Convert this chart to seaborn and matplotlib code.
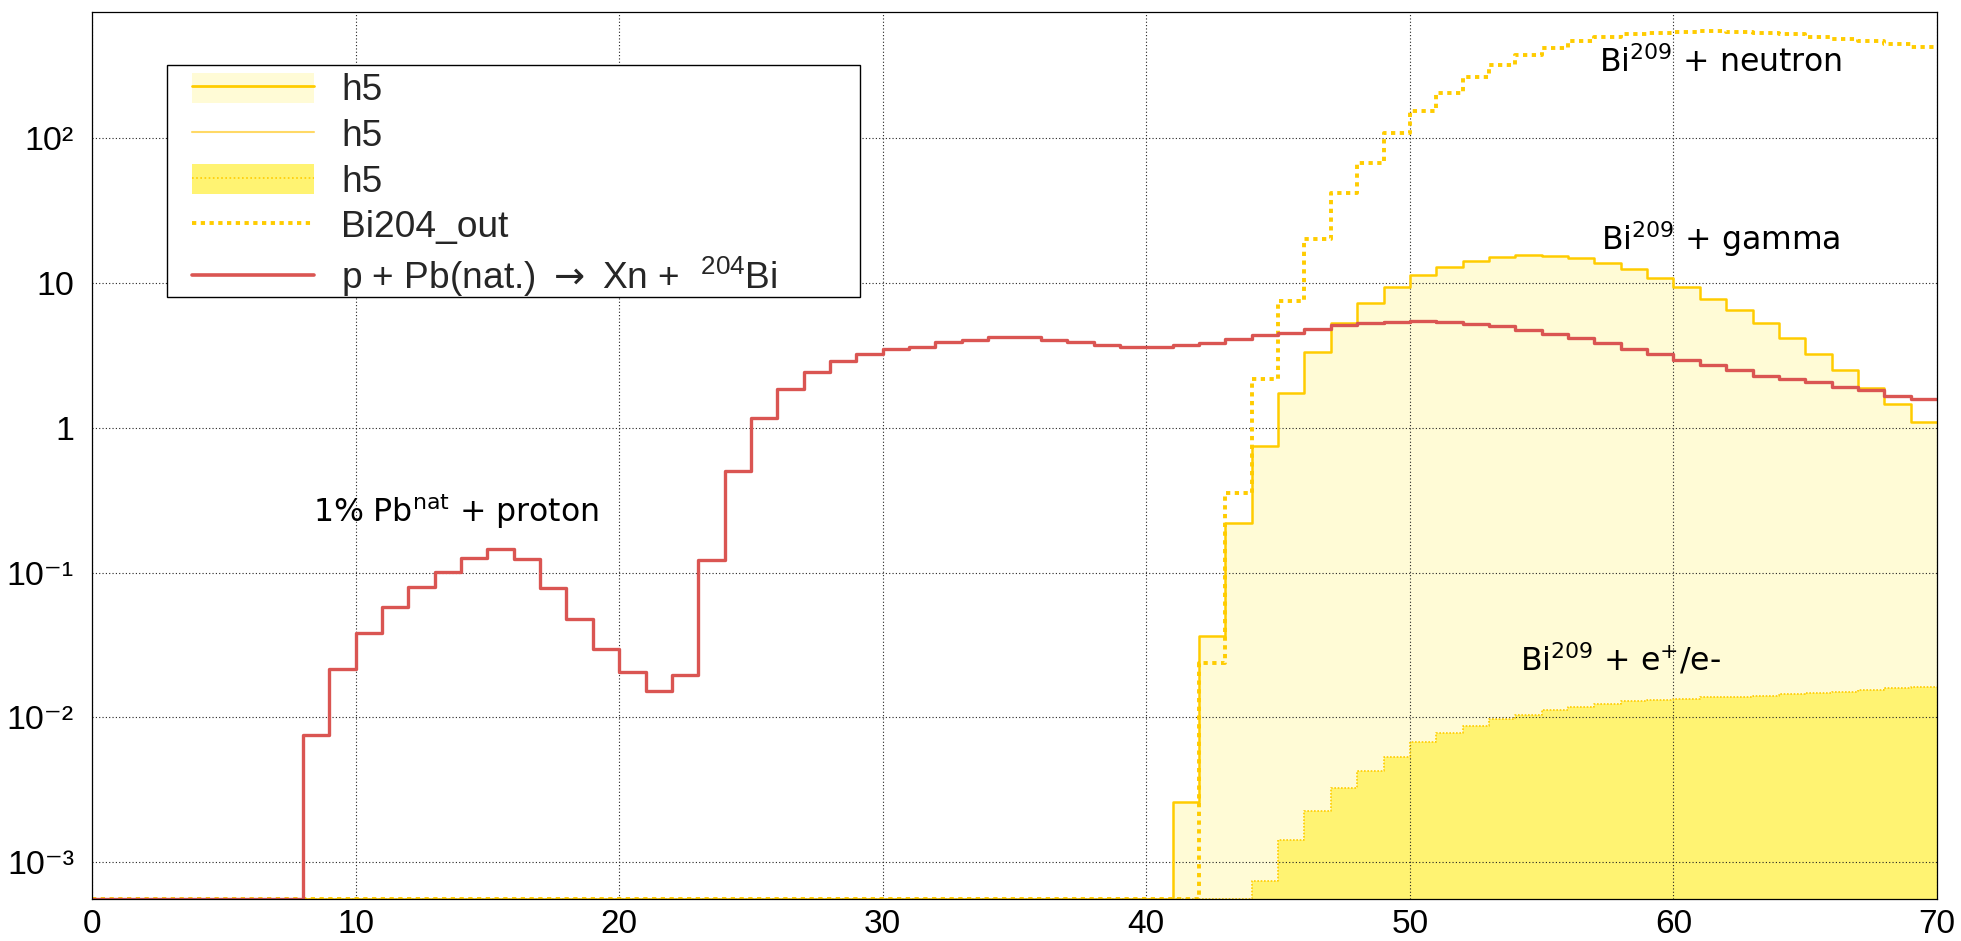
import numpy as np
import matplotlib
matplotlib.use("Agg")
import matplotlib.pyplot as plt
from matplotlib.patches import Rectangle, Patch
from matplotlib.lines import Line2D
from matplotlib.ticker import (FixedLocator, FixedFormatter, MultipleLocator,
                               LogLocator, NullFormatter)
import seaborn as sns

# ---------------------------------------------------------------- data
# energy bins (MeV), 1 MeV wide
energy_edges = list(range(0, 71))

# p + Pb(nat.) -> Xn + 204Bi
pb_to_bi204 = [0, 0, 0, 0, 0, 0, 0, 0, 0.0076, 0.0215,
               0.0385, 0.0574, 0.0797, 0.101, 0.1265, 0.1445, 0.124, 0.0785, 0.0481, 0.0298,
               0.0204, 0.0153, 0.0195, 0.123, 0.506, 1.17, 1.86, 2.41, 2.88, 3.22,
               3.48, 3.61, 3.94, 4.06, 4.22, 4.22, 4.06, 3.91, 3.75, 3.61,
               3.62, 3.71, 3.88, 4.13, 4.40, 4.54, 4.81, 5.16, 5.30, 5.36,
               5.44, 5.36, 5.25, 5.02, 4.74, 4.47, 4.15, 3.85, 3.50, 3.25,
               2.94, 2.73, 2.52, 2.29, 2.19, 2.07, 1.91, 1.83, 1.67, 1.59]

# Bi209 + gamma
bi209_gamma = [0] * 41 + [0.0026, 0.0365, 0.219, 0.746, 1.75, 3.34, 5.30, 7.28, 9.40,
                          11.3, 12.9, 14.2, 15.1, 15.6, 15.3, 14.8, 13.7, 12.5, 10.9,
                          9.35, 7.81, 6.49, 5.27, 4.15, 3.25, 2.49, 1.89, 1.45, 1.09]

# Bi209 + neutron (Bi204_out)
bi209_neutron = [0] * 42 + [0.0236, 0.356, 2.16, 7.48, 20.0, 41.6, 67.8, 108,
                            154, 207, 264, 321, 377, 420, 467, 500, 525, 538,
                            547, 550, 544, 533, 525, 505, 484, 469, 449, 430]

# Bi209 + e+/e-
bi209_epm = [0] * 44 + [7.38e-4, 1.43e-3, 2.25e-3, 3.23e-3, 4.24e-3, 5.33e-3,
                        6.71e-3, 7.79e-3, 8.70e-3, 9.78e-3, 0.0104, 0.0112, 0.0117, 0.0123, 0.0130, 0.0132,
                        0.0134, 0.0137, 0.0139, 0.0141, 0.0144, 0.0147, 0.0150, 0.0154, 0.0160, 0.0163]

legend_labels = ["h5", "h5", "h5", "Bi204_out",
                 "p + Pb(nat.) $\\rightarrow$ Xn +  $\\mathregular{^{204}}$Bi"]

x_ticks = [0, 10, 20, 30, 40, 50, 60, 70]
x_tick_labels = ["0", "10", "20", "30", "40", "50", "60", "70"]
y_ticks = [1e-3, 1e-2, 1e-1, 1, 10, 100]
y_tick_labels = ["10\u207b\u00b3", "10\u207b\u00b2", "10\u207b\u00b9", "1", "10", "10\u00b2"]
y_range = (5.55e-4, 746)
x_range = (0, 70)

# ---------------------------------------------------------------- style
RED = "#da5552"
GOLD = "#ffcc00"
GOLD_LIGHT = "#ffd966"
PALE_FILL = "#fffbd6"
BRIGHT_FILL = "#fff372"
SANS = ["Liberation Sans", "DejaVu Sans"]

sns.set_style("white")
plt.rcParams["font.family"] = SANS
plt.rcParams["mathtext.fontset"] = "dejavusans"

W, H = 1961, 941
fig = plt.figure(figsize=(W / 100, H / 100), dpi=100)
ax = fig.add_axes([92 / W, 42 / H, 1845 / W, 887 / H])
ax.set_yscale("log")

edges = np.asarray(energy_edges, float)
centers = 0.5 * (edges[:-1] + edges[1:])


def on_floor(values):
    """Empty bins sit on the lower frame edge, as in a ROOT histogram."""
    return np.maximum(np.asarray(values, float), y_range[0])


def hist_step(values, **kws):
    sns.histplot(x=centers, weights=on_floor(values), bins=energy_edges,
                 element="step", ax=ax, **kws)


# filled areas
hist_step(bi209_gamma, fill=True, facecolor=PALE_FILL, edgecolor="none", linewidth=0)
hist_step(bi209_epm, fill=True, facecolor=BRIGHT_FILL, edgecolor="none", linewidth=0)

# outlines
hist_step(bi209_epm, fill=False, color=GOLD, linewidth=1.2, linestyle=(0, (1, 1)))
hist_step(bi209_neutron, fill=False, color=GOLD, linewidth=2.8, linestyle=(0, (1.1, 1.15)))
hist_step(bi209_gamma, fill=False, color=GOLD, linewidth=1.8)
hist_step(pb_to_bi204, fill=False, color=RED, linewidth=2.4)

# ---------------------------------------------------------------- axes
ax.set_xlim(*x_range)
ax.set_ylim(*y_range)
ax.set_xlabel("")
ax.set_ylabel("")

ax.xaxis.set_major_locator(FixedLocator(x_ticks))
ax.xaxis.set_major_formatter(FixedFormatter(x_tick_labels))
ax.xaxis.set_minor_locator(MultipleLocator(2))
ax.yaxis.set_major_locator(FixedLocator(y_ticks))
ax.yaxis.set_major_formatter(FixedFormatter(y_tick_labels))
ax.yaxis.set_minor_locator(LogLocator(base=10, subs=np.arange(2, 10), numticks=50))
ax.yaxis.set_minor_formatter(NullFormatter())

ax.tick_params(axis="both", which="both", direction="in", color="#333333",
               width=0.8, top=False, right=False, labelcolor="black")
ax.tick_params(axis="x", which="major", length=20.2, pad=7.5, labelsize=24)
ax.tick_params(axis="x", which="minor", length=10)
ax.tick_params(axis="y", which="major", length=39.6, pad=13, labelsize=24.5)
ax.tick_params(axis="y", which="minor", length=19.4)

for s in ax.spines.values():
    s.set_color("black")
    s.set_linewidth(0.9)
    s.set_visible(True)

ax.set_axisbelow("line")
ax.grid(True, which="major", color="#222222", linestyle=(0, (1, 2)), linewidth=0.8)
ax.grid(False, which="minor")

# ---------------------------------------------------------------- annotations
txt_kw = dict(fontsize=22.7, family="DejaVu Sans", ha="left", va="baseline", color="black")
ax.text(8.39, 0.2245, "1% Pb$^{\\mathregular{nat}}$ + proton", **txt_kw)
ax.text(57.19, 288, "Bi$^{\\mathregular{209}}$ + neutron", **txt_kw)
ax.text(57.27, 16.9, "Bi$^{\\mathregular{209}}$ + gamma", **txt_kw)
ax.text(54.16, 0.0210, "Bi$^{\\mathregular{209}}$ + e$^{\\mathregular{+}}$/e-", **txt_kw)

# ---------------------------------------------------------------- legend
frame = Rectangle((167 / W, 1 - 297 / H), (860 - 167) / W, (297 - 65) / H,
                  transform=fig.transFigure, facecolor="white", edgecolor="black",
                  linewidth=1.0, zorder=4, clip_on=False)
ax.add_artist(frame)

handles = [
    (Patch(facecolor=PALE_FILL, edgecolor="none"), Line2D([], [], color=GOLD, lw=2.0)),
    Line2D([], [], color=GOLD_LIGHT, lw=1.5),
    (Patch(facecolor=BRIGHT_FILL, edgecolor="none"),
     Line2D([], [], color=GOLD, lw=1.2, linestyle=(0, (1, 1.5)))),
    Line2D([], [], color=GOLD, lw=2.8, linestyle=(0, (1.1, 1.15))),
    Line2D([], [], color=RED, lw=2.6),
]
leg = ax.legend(handles, legend_labels, loc="upper left",
                bbox_to_anchor=(192 / W, 1 - 72.5 / H), bbox_transform=fig.transFigure,
                frameon=False, borderpad=0, borderaxespad=0,
                handlelength=3.28, handleheight=0.88, handletextpad=0.75,
                labelspacing=0.26,
                prop={"family": SANS, "size": 26.7})
leg.set_zorder(5)

fig.savefig("out.png", dpi=100, facecolor="white")
